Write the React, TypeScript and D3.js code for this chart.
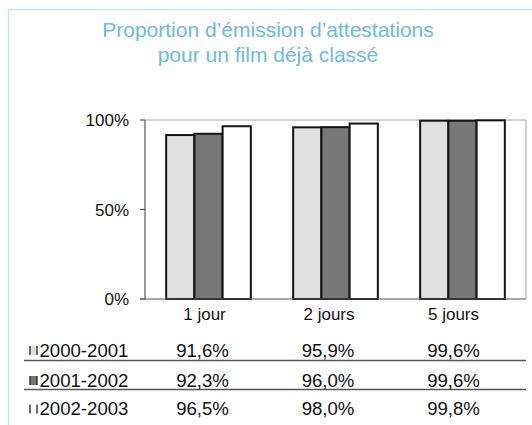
import React from "react";
import * as d3 from "d3";

const titleLines = ["Proportion d’émission d’attestations", "pour un film déjà classé"];
const categories = ["1 jour", "2 jours", "5 jours"];
const seriesNames = ["2000-2001", "2001-2002", "2002-2003"];
const values2000 = [0.916, 0.959, 0.996];
const values2001 = [0.923, 0.96, 0.996];
const values2002 = [0.965, 0.98, 0.998];
const tableLabels2000 = ["91,6%", "95,9%", "99,6%"];
const tableLabels2001 = ["92,3%", "96,0%", "99,6%"];
const tableLabels2002 = ["96,5%", "98,0%", "99,8%"];
const yTicks = [0, 0.5, 1];
const seriesColors = ["#e0e0e0", "#777777", "#ffffff"];

const W = 532;
const H = 425;
const FONT = "'Liberation Sans', Arial, Helvetica, sans-serif";

export default function App() {
  const seriesValues = [values2000, values2001, values2002];
  const seriesTable = [tableLabels2000, tableLabels2001, tableLabels2002];

  const plotLeft = 145;
  const plotRight = 526;
  const plotTop = 120;
  const plotBottom = 299;

  const x0 = d3.scaleBand<string>().domain(categories).range([plotLeft, plotRight]).padding(0);
  const bw = x0.bandwidth();
  const barW = bw / 4.5;
  const x1 = d3
    .scaleBand<string>()
    .domain(seriesNames)
    .range([barW * 0.75, bw - barW * 0.75])
    .padding(0);
  const y = d3.scaleLinear().domain([0, 1]).range([plotBottom, plotTop]);
  const fmt = d3.format(".0%");

  const rowBaselines = [356.5, 386.5, 415];
  const rowLines = [360.5, 389.5];
  const labelFont = 17;
  const tableFont = 18.6;

  return (
    <svg
      width={W}
      height={H}
      style={{ position: "absolute", left: 0, top: 0, background: "#fff" }}
      fontFamily={FONT}
    >
      <rect x={8.5} y={9.5} width={700} height={700} fill="#fff" stroke="#c6e4f4" strokeWidth={1.5} />
      {titleLines.map((t, i) => (
        <text key={i} x={268} y={37 + i * 25} textAnchor="middle" fontSize={21} fill="#6bbbe2">
          {t}
        </text>
      ))}

      {/* plot area border (top & right) */}
      <line x1={plotLeft} x2={plotRight} y1={y(1)} y2={y(1)} stroke="#c4c4c4" strokeWidth={1.5} />
      <line x1={plotRight} x2={plotRight} y1={y(1)} y2={y(0)} stroke="#c4c4c4" strokeWidth={1.5} />

      {/* bars */}
      {categories.map((c, ci) => (
        <g key={c} transform={`translate(${x0(c)},0)`}>
          {seriesNames.map((s, si) => {
            const v = seriesValues[si][ci];
            return (
              <rect
                key={s}
                x={x1(s)}
                y={y(v)}
                width={x1.bandwidth()}
                height={y(0) - y(v)}
                fill={seriesColors[si]}
                stroke="#141414"
                strokeWidth={2}
              />
            );
          })}
        </g>
      ))}

      {/* axes */}
      <line x1={plotLeft} x2={plotLeft} y1={y(1)} y2={y(0)} stroke="#555" strokeWidth={1.2} />
      <line x1={plotLeft - 5} x2={plotRight} y1={y(0)} y2={y(0)} stroke="#555" strokeWidth={1.2} />
      {yTicks.map((t) => (
        <g key={t}>
          <line x1={plotLeft - 5} x2={plotLeft} y1={y(t)} y2={y(t)} stroke="#555" strokeWidth={1.2} />
          <text x={129} y={y(t) + 6} textAnchor="end" fontSize={labelFont} fill="#111">
            {fmt(t)}
          </text>
        </g>
      ))}

      {/* category labels */}
      {categories.map((c, ci) => (
        <text
          key={c}
          x={(x0(c) as number) + bw / 2 - 4 - ci * 2.5}
          y={320}
          textAnchor="middle"
          fontSize={labelFont}
          fill="#111"
        >
          {c}
        </text>
      ))}

      {/* data table */}
      {rowLines.map((ly, i) => (
        <line key={i} x1={24} x2={plotRight} y1={ly} y2={ly} stroke="#555" strokeWidth={1.5} />
      ))}
      {seriesNames.map((s, si) => (
        <g key={s}>
          <rect
            x={30}
            y={rowBaselines[si] - 10.5}
            width={7}
            height={9}
            fill={seriesColors[si]}
          />
          <line x1={30} x2={30} y1={rowBaselines[si] - 10.5} y2={rowBaselines[si] - 1.5} stroke="#222" strokeWidth={1.3} />
          <line x1={37} x2={37} y1={rowBaselines[si] - 10.5} y2={rowBaselines[si] - 1.5} stroke="#222" strokeWidth={1.3} />
          <text x={39.5} y={rowBaselines[si]} fontSize={tableFont} fill="#111">
            {s}
          </text>
          {categories.map((c, ci) => (
            <text
              key={c}
              x={(x0(c) as number) + bw / 2 - 6 - ci * 1.5}
              y={rowBaselines[si]}
              textAnchor="middle"
              fontSize={tableFont}
              fill="#111"
            >
              {seriesTable[si][ci]}
            </text>
          ))}
        </g>
      ))}
    </svg>
  );
}
